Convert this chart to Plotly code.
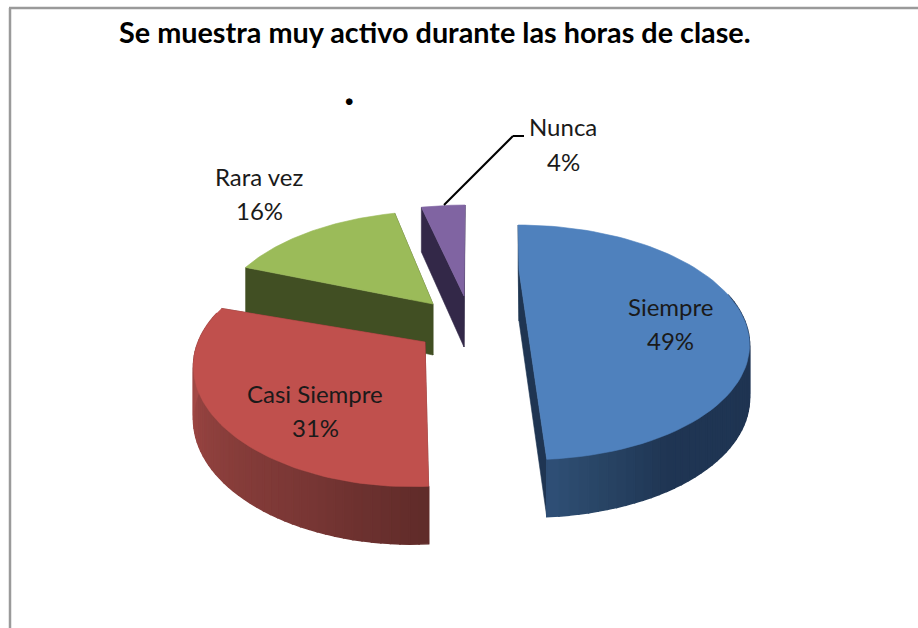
import numpy as np
import plotly.graph_objects as go

# --- data ---
categories = ["Siempre", "Casi Siempre", "Rara vez", "Nunca"]
values = [49, 31, 16, 4]
title_text = "Se muestra muy activo durante las horas de clase."

# --- styles ---
top_colors = ["#4f81bd", "#c0504d", "#9bbb59", "#8064a2"]
cut_colors = ["#1f3552", "#6a2d2b", "#414f23", "#332848"]
wall_stops = [
    [(100, "#1f3452"), (150, "#1f3553"), (168, "#2a4768"), (177, "#2f5078")],
    [(176, "#5f2b29"), (205, "#7a3735"), (235, "#8e403d"), (270, "#a64a47")],
    [(270, "#414f23"), (350, "#414f23")],
    [(340, "#332848"), (360, "#332848")],
]
# per-slice projection: rim centre x, rim centre y, horizontal radius, apex x, apex y
proj = [
    (522, 313, 219, 519, 270),
    (405, 340, 206, 425, 342),
    (443, 299, 222, 433, 304),
    (469, 293, 219, 464, 296),
]
B, K, SHEAR = 110, 0.25, 0.044
draw_order = [2, 3, 1, 0]
label_pos = [(670, 306, 340), (315, 393, 427), (259, 176, 210), (563, 126, 161)]


def rim(i, t_deg):
    cx, cy, A, _, _ = proj[i]
    t = np.radians(t_deg)
    X, Y = np.sin(t), np.cos(t)
    s = 1 / (1 + K * Y)
    dy = -B * Y * s
    return cx + A * X * s + SHEAR * dy, cy + dy


def depth(t_deg):
    return 51 - 6.5 * np.cos(np.radians(t_deg))


def hex_rgb(h):
    return np.array([int(h[j:j + 2], 16) for j in (1, 3, 5)], float)


def stop_color(stops, t):
    ts = [a for a, _ in stops]
    cs = np.array([hex_rgb(c) for _, c in stops])
    rgb = [np.interp(t, ts, cs[:, j]) for j in range(3)]
    return "rgb(%d,%d,%d)" % tuple(int(round(v)) for v in rgb)


fig = go.Figure()


def poly(xs, ys, color, lw=0.6):
    fig.add_trace(go.Scatter(
        x=list(xs) + [xs[0]], y=list(ys) + [ys[0]], mode="lines", fill="toself",
        fillcolor=color, line=dict(color=color, width=lw),
        hoverinfo="skip", showlegend=False))


bounds = np.concatenate([[0], np.cumsum(values)]) * 360 / sum(values)
for i in draw_order:
    t0, t1 = bounds[i], bounds[i + 1]
    ax, ay = proj[i][3], proj[i][4]
    # cut faces
    for t in (t1, t0):
        rx, ry = rim(i, t)
        d = depth(t)
        poly([ax, rx, rx, ax], [ay, ry, ry + d, ay + 51], cut_colors[i])
    # outer wall
    ts = np.arange(max(t0, 80), min(t1, 285) + 1e-6, 2.0)
    if len(ts) > 1:
        ts = np.append(ts[:-1], min(t1, 285))
        for a, b in zip(ts[:-1], ts[1:]):
            xa, ya = rim(i, a)
            xb, yb = rim(i, b)
            poly([xa, xb, xb, xa], [ya, yb, yb + depth(b), ya + depth(a)],
                 stop_color(wall_stops[i], (a + b) / 2), lw=1.5)
    # top face
    arc = np.linspace(t0, t1, 80)
    rx, ry = rim(i, arc)
    poly([ax] + list(rx), [ay] + list(ry), top_colors[i])

# leader line for the smallest slice
fig.add_shape(type="line", x0=444, y0=205, x1=513, y1=136, line=dict(color="#000000", width=2))
fig.add_shape(type="line", x0=513, y0=136, x1=524, y1=136, line=dict(color="#000000", width=2))
# chart frame
fig.add_shape(type="line", x0=9, y0=8, x1=918, y1=8, line=dict(color="#9a9a9a", width=2.5))
fig.add_shape(type="line", x0=10, y0=8, x1=10, y1=628, line=dict(color="#9a9a9a", width=2.5))

LABEL = dict(family="Lato, Carlito, sans-serif", size=24, color="#1a1a1a")
for name, v, (x, y1, y2) in zip(categories, values, label_pos):
    fig.add_annotation(x=x, y=y1, text=name, showarrow=False, font=LABEL)
    fig.add_annotation(x=x, y=y2, text=f"{v}%", showarrow=False, font=LABEL)

fig.add_annotation(x=435, y=32, text=f"<b>{title_text}</b>", showarrow=False,
                   font=dict(family="Lato, Carlito, sans-serif", size=28.8, color="#000000"))
fig.add_annotation(x=349, y=88, text="<b>.</b>", showarrow=False,
                   font=dict(family="Lato, Carlito, sans-serif", size=44, color="#000000"))

fig.update_xaxes(range=[0, 918], visible=False, showgrid=False, zeroline=False, fixedrange=True)
fig.update_yaxes(range=[628, 0], visible=False, showgrid=False, zeroline=False, fixedrange=True)
fig.update_layout(width=918, height=628, margin=dict(l=0, r=0, t=0, b=0),
                  paper_bgcolor="#ffffff", plot_bgcolor="#ffffff", showlegend=False)
fig.write_html("out.html", config={"displayModeBar": False},
               post_script="document.body.style.margin='0';document.body.style.overflow='hidden';")
